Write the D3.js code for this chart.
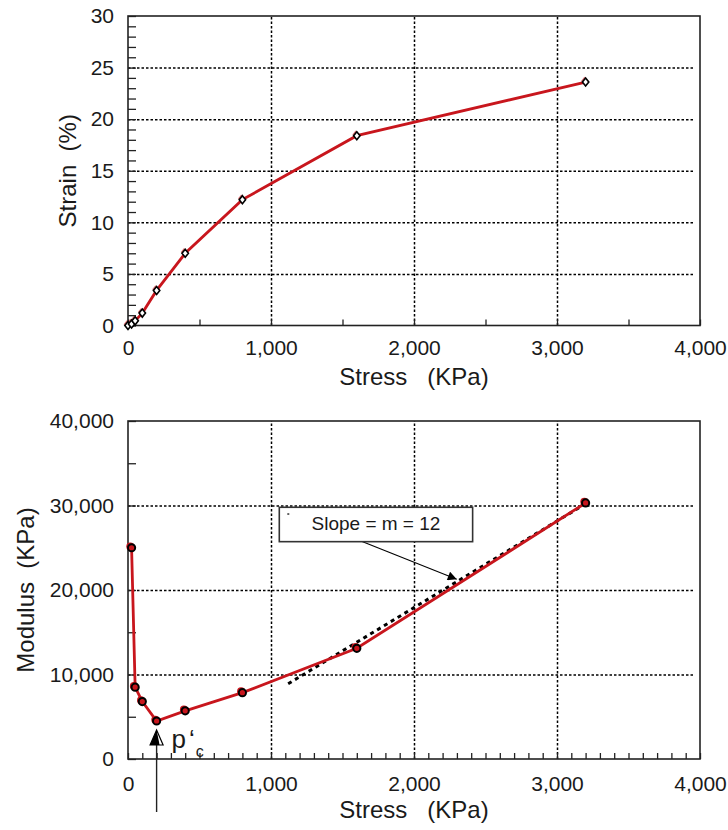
<!DOCTYPE html>
<html lang="en">
<head>
<meta charset="UTF-8" />
<title>Strain and modulus vs stress</title>
<style>
  body { margin: 0; background: white; }
  svg { display: block; font-family: "Liberation Sans", Arial, sans-serif; }
  .grid line { stroke: #000; stroke-width: 1.5; stroke-dasharray: 2.5 2; }
  .minor line { stroke: #222; stroke-width: 1.3; }
  .labels text { fill: #1a1a1a; }
</style>
</head>
<body>
<svg width="728" height="830"></svg>
<script src="https://d3js.org/d3.v7.min.js"></script>
<script>
// top panel: strain against stress
const strainStress = [0, 25, 50, 100, 200, 400, 800, 1600, 3200];
const strainValues = [0, 0.15, 0.45, 1.2, 3.4, 7.0, 12.2, 18.4, 23.6];

// bottom panel: modulus against stress
const modulusStress = [25, 50, 100, 200, 400, 800, 1600, 3200];
const modulusValues = [25000, 8500, 6800, 4500, 5700, 7850, 13100, 30300];

// dashed slope line (m = 12)
const slopeStress = [1120, 3170];
const slopeModulus = [8900, 29900];

const stressTicks = [0, 1000, 2000, 3000, 4000];
const strainTicks = [0, 5, 10, 15, 20, 25, 30];
const modulusTicks = [0, 10000, 20000, 30000, 40000];

const svg = d3.select("svg");
const red = "#c8161d";
const fmt = d3.format(",");
const left = 128, right = 700;

const x = d3.scaleLinear().domain([0, 4000]).range([left, right]);
const yTop = d3.scaleLinear().domain([0, 30]).range([325.5, 16]);
const yBot = d3.scaleLinear().domain([0, 40000]).range([759, 421]);

function drawFrame(y, yTicks, yMinor, xMinor, xPad, yTitle, titleX, titleY) {
  const [y0, y1] = [y.range()[0], y.range()[1]];
  const inner = yTicks.slice(1, -1);
  const innerX = stressTicks.slice(1, -1);

  // dotted grid
  svg.append("g").attr("class", "grid")
    .attr("transform", `translate(${left},0)`)
    .call(d3.axisLeft(y).tickValues(inner).tickSize(-(right - left - 5)).tickFormat(""))
    .call(g => g.select(".domain").remove());
  svg.append("g").attr("class", "grid")
    .attr("transform", `translate(0,${y0})`)
    .call(d3.axisBottom(x).tickValues(innerX).tickSize(-(y0 - y1)).tickFormat(""))
    .call(g => g.select(".domain").remove());

  // inward minor ticks
  svg.append("g").attr("class", "minor")
    .attr("transform", `translate(${left},0)`)
    .call(d3.axisLeft(y).tickValues(yMinor).tickSize(-8).tickFormat(""))
    .call(g => g.select(".domain").remove());
  svg.append("g").attr("class", "minor")
    .attr("transform", `translate(0,${y0})`)
    .call(d3.axisBottom(x).tickValues(xMinor).tickSize(-6).tickFormat(""))
    .call(g => g.select(".domain").remove());

  // frame
  svg.append("rect")
    .attr("x", left).attr("y", y1)
    .attr("width", right - left).attr("height", y0 - y1)
    .attr("fill", "none").attr("stroke", "#222").attr("stroke-width", 1.6);

  // tick labels
  svg.append("g").attr("class", "labels")
    .attr("transform", `translate(${left},0)`)
    .call(d3.axisLeft(y).tickValues(yTicks).tickSize(0).tickPadding(14).tickFormat(fmt))
    .call(g => g.select(".domain").remove())
    .attr("font-family", null).attr("font-size", 21);
  svg.append("g").attr("class", "labels")
    .attr("transform", `translate(0,${y0})`)
    .call(d3.axisBottom(x).tickValues(stressTicks).tickSize(0).tickPadding(xPad).tickFormat(fmt))
    .call(g => g.select(".domain").remove())
    .attr("font-family", null).attr("font-size", 21);

  // axis titles
  svg.append("text")
    .attr("x", (left + right) / 2).attr("y", titleY)
    .attr("text-anchor", "middle").attr("font-size", 24).attr("fill", "#1a1a1a")
    .style("white-space", "pre")
    .text("Stress   (KPa)");
  svg.append("text")
    .attr("transform", `translate(${titleX},${(y0 + y1) / 2}) rotate(-90)`)
    .attr("text-anchor", "middle").attr("font-size", 24).attr("fill", "#1a1a1a")
    .style("white-space", "pre")
    .text(yTitle);
}

// ---- top panel
drawFrame(yTop, strainTicks, d3.range(0, 31, 1), d3.range(0, 4001, 500), 15, "Strain  (%)", 76, 385);

const topPts = strainStress.map((s, i) => [s, strainValues[i]]);
svg.append("path")
  .datum(topPts)
  .attr("fill", "none").attr("stroke", red).attr("stroke-width", 2.8)
  .attr("d", d3.line().x(d => x(d[0])).y(d => yTop(d[1])));

const diamond = "M0,-4L3.2,0L0,4L-3.2,0Z";
svg.append("g").selectAll("path")
  .data(topPts).join("path")
  .attr("transform", d => `translate(${x(d[0]) - 1.2},${yTop(d[1]) - 1.2})`)
  .attr("d", diamond).attr("fill", red).attr("opacity", 0.6);
svg.append("g").selectAll("path")
  .data(topPts).join("path")
  .attr("transform", d => `translate(${x(d[0])},${yTop(d[1])})`)
  .attr("d", diamond).attr("fill", "white").attr("stroke", "#000").attr("stroke-width", 1.6);

// ---- bottom panel
drawFrame(yBot, modulusTicks, d3.range(0, 40001, 5000), d3.range(0, 4001, 100), 17, "Modulus  (KPa)", 34, 818);

svg.append("path")
  .datum(slopeStress.map((s, i) => [s, slopeModulus[i]]))
  .attr("fill", "none").attr("stroke", "#000").attr("stroke-width", 3)
  .attr("stroke-dasharray", "4 4")
  .attr("d", d3.line().x(d => x(d[0])).y(d => yBot(d[1])));

const botPts = modulusStress.map((s, i) => [s, modulusValues[i]]);
svg.append("path")
  .datum(botPts)
  .attr("fill", "none").attr("stroke", red).attr("stroke-width", 2.8)
  .attr("d", d3.line().x(d => x(d[0])).y(d => yBot(d[1])));

svg.append("g").selectAll("circle")
  .data(botPts).join("circle")
  .attr("cx", d => x(d[0]) - 1.3).attr("cy", d => yBot(d[1]) - 1.3)
  .attr("r", 4).attr("fill", red);
svg.append("g").selectAll("circle")
  .data(botPts).join("circle")
  .attr("cx", d => x(d[0])).attr("cy", d => yBot(d[1]))
  .attr("r", 3.6).attr("fill", red).attr("stroke", "#000").attr("stroke-width", 2);

// slope annotation
svg.append("defs").append("marker")
  .attr("id", "head").attr("viewBox", "0 0 10 10")
  .attr("refX", 10).attr("refY", 5)
  .attr("markerWidth", 14).attr("markerHeight", 9)
  .attr("markerUnits", "userSpaceOnUse").attr("orient", "auto")
  .append("path").attr("d", "M0,0L10,5L0,10Z").attr("fill", "#000");

svg.append("line")
  .attr("x1", x(1571)).attr("y1", yBot(26190))
  .attr("x2", x(2299)).attr("y2", yBot(21266))
  .attr("stroke", "#000").attr("stroke-width", 1.1)
  .attr("marker-end", "url(#head)");

svg.append("rect")
  .attr("x", x(1058)).attr("y", yBot(29790))
  .attr("width", x(2410) - x(1058)).attr("height", yBot(25720) - yBot(29790))
  .attr("fill", "white").attr("stroke", "#333").attr("stroke-width", 1.6);
svg.append("rect")
  .attr("x", x(1058) + 8).attr("y", yBot(29790) + 6)
  .attr("width", 2).attr("height", 1.5).attr("fill", "#333");
svg.append("text")
  .attr("x", x(1734)).attr("y", yBot(27100))
  .attr("text-anchor", "middle").attr("font-size", 19).attr("fill", "#1a1a1a")
  .text("Slope = m = 12");

// p'c marker under the minimum
const px = x(200), base = yBot(0);
svg.append("line")
  .attr("x1", px).attr("y1", base + 53)
  .attr("x2", px).attr("y2", base - 16)
  .attr("stroke", "#222").attr("stroke-width", 1.4);
svg.append("path")
  .attr("d", `M${px},${base - 29}L${px - 6.5},${base - 14}L${px + 6.5},${base - 14}Z`)
  .attr("fill", "white").attr("stroke", "#000").attr("stroke-width", 1.2);
svg.append("path")
  .attr("d", `M${px},${base - 29}L${px - 6.5},${base - 14}L${px + 3},${base - 14}Z`)
  .attr("fill", "#000");

const pc = svg.append("text")
  .attr("x", px + 15).attr("y", base - 11)
  .attr("font-size", 26).attr("fill", "#1a1a1a");
pc.append("tspan").text("p");
pc.append("tspan").text("\u2018").attr("dx", 3);
pc.append("tspan").text("c").attr("font-size", 16).attr("dx", 1).attr("dy", 9);
</script>
</body>
</html>
